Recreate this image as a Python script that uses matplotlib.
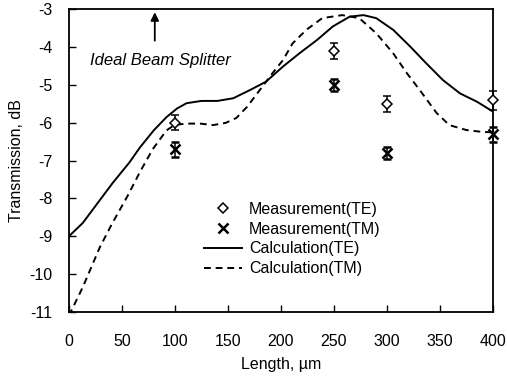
import numpy as np
import matplotlib.pyplot as plt
from matplotlib.lines import Line2D

plt.rcParams['font.family'] = ['Liberation Sans', 'DejaVu Sans']
plt.rcParams['axes.unicode_minus'] = False

# measured points
meas_x = [100, 250, 300, 400]
te_meas = [-6.0, -4.1, -5.5, -5.4]
te_err = [0.2, 0.2, 0.2, 0.25]
tm_meas = [-6.7, -5.0, -6.8, -6.3]
tm_err = [0.2, 0.15, 0.15, 0.2]

# calculated curves
te_x = [0, 13, 29, 41, 57, 67, 80, 92, 102, 111, 125, 140, 155, 171, 186, 202, 218, 234,
        249, 265, 278, 290, 306, 322, 337, 353, 369, 385, 400]
te_y = [-9.0, -8.65, -8.05, -7.6, -7.05, -6.65, -6.2, -5.85, -5.62, -5.48, -5.42, -5.42, -5.35,
        -5.13, -4.91, -4.51, -4.15, -3.81, -3.45, -3.19, -3.15, -3.23, -3.54, -3.98, -4.42,
        -4.87, -5.22, -5.44, -5.7]
tm_x = [0, 13, 29, 41, 55, 67, 79, 92, 100, 112, 124, 136, 148, 158, 168, 178, 192,
        202, 211, 224, 239, 258, 274, 290, 306, 319, 331, 347, 359, 375, 390, 400]
tm_y = [-11.1, -10.35, -9.3, -8.65, -7.95, -7.3, -6.7, -6.2, -6.05, -6.02, -6.02,
        -6.06, -6.0, -5.87, -5.58, -5.21, -4.69, -4.34, -3.9, -3.54, -3.23, -3.15, -3.23,
        -3.63, -4.16, -4.69, -5.13, -5.74, -6.06, -6.19, -6.24, -6.25]

fig = plt.figure(figsize=(5.07, 3.78), dpi=100)
ax = fig.add_axes([0.136, 0.175, 0.836, 0.8])

ax.plot(te_x, te_y, color='black', lw=1.4)
ax.plot(tm_x, tm_y, color='black', lw=1.4, ls=(0, (3.5, 2.5)))
ax.errorbar(meas_x, te_meas, yerr=te_err, fmt='D', ms=5.5, mfc='white', mec='black',
            mew=1.1, ecolor='black', elinewidth=1.1, capsize=3, zorder=3, clip_on=False)
ax.errorbar(meas_x, tm_meas, yerr=tm_err, fmt='x', ms=7, mec='black', mew=1.8,
            ecolor='black', elinewidth=1.1, capsize=3, zorder=3, clip_on=False)

ax.annotate('', xy=(81, -3.0), xytext=(81, -3.9),
            arrowprops=dict(arrowstyle='-|>', color='black', lw=1.3, mutation_scale=12))
ax.text(20, -4.35, 'Ideal Beam Splitter', fontsize=12, style='italic', va='center')

handles = [
    Line2D([], [], ls='none', marker='D', ms=5.5, mfc='white', mec='black', mew=1.1),
    Line2D([], [], ls='none', marker='x', ms=7, mec='black', mew=1.8),
    Line2D([], [], color='black', lw=1.4),
    Line2D([], [], color='black', lw=1.4, ls=(0, (3.5, 2.5))),
]
labels = ['Measurement(TE)', 'Measurement(TM)', 'Calculation(TE)', 'Calculation(TM)']
ax.legend(handles, labels, loc='upper left', bbox_to_anchor=(0.3, 0.39), frameon=False,
          fontsize=11.5, handlelength=2.4, handletextpad=0.4, labelspacing=0.3,
          borderpad=0)

ax.set_xlim(0, 400)
ax.set_ylim(-11, -3)
ax.set_xticks(np.arange(0, 401, 50))
ax.set_yticks(np.arange(-11, -2, 1))
ax.tick_params(direction='in', length=5, width=1, labelsize=11.5)
ax.tick_params(axis='x', pad=16)
ax.tick_params(axis='y', pad=12)
for s in ax.spines.values():
    s.set_linewidth(1.3)
ax.set_xlabel('Length, \u00b5m', fontsize=11.5, labelpad=6)
ax.set_ylabel('Transmission, dB', fontsize=11.5, labelpad=4)

fig.savefig('out.png', dpi=100)
